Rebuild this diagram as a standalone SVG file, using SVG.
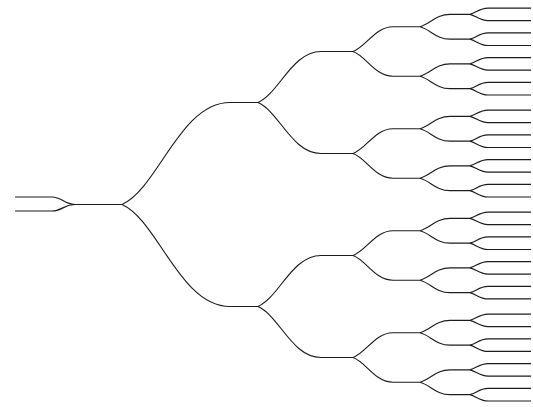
<svg xmlns="http://www.w3.org/2000/svg" width="533" height="407" viewBox="0 0 533 407">
<style>
.c{fill:none;stroke:#1c1c1c;stroke-width:1.15;stroke-linecap:butt}
</style>
<defs>
<path id="e1" class="c" d="M0,0 C36,-16 58,-102 108,-102 L136,-102"/>
<path id="e2" class="c" d="M0,0 C21,-9 34,-51 63,-51 L95,-51"/>
<path id="e3" class="c" d="M0,0 C13,-4.5 22,-24.75 40,-24.75 L67,-24.75"/>
<path id="e4" class="c" d="M0,0 C10,-2.5 16,-12.4 30,-12.4 L50,-12.4"/>
<path id="e5" class="c" d="M0,0 C6,-1.3 9.5,-6.3 18,-6.3 L61,-6.3"/>
</defs>
<rect width="533" height="407" fill="#fff"/>
<g id="connectors">
<g id="root-stem">
<path class="c" d="M15,197 L52,197 C62,197 64,204.5 75,204.5 L122,204.5"/>
<path class="c" d="M15,211 L52,211 C62,211 64,204.5 75,204.5"/>
</g>
<g id="level1">
<use href="#e1" transform="translate(122,204.5)"/>
<use href="#e1" transform="translate(122,204.5) scale(1,-1)"/>
</g>
<g id="level2">
<use href="#e2" transform="translate(258,102.5)"/>
<use href="#e2" transform="translate(258,102.5) scale(1,-1)"/>
<use href="#e2" transform="translate(258,306.5)"/>
<use href="#e2" transform="translate(258,306.5) scale(1,-1)"/>
</g>
<g id="level3">
<use href="#e3" transform="translate(353,51.5)"/>
<use href="#e3" transform="translate(353,51.5) scale(1,-1)"/>
<use href="#e3" transform="translate(353,153.5)"/>
<use href="#e3" transform="translate(353,153.5) scale(1,-1)"/>
<use href="#e3" transform="translate(353,255.5)"/>
<use href="#e3" transform="translate(353,255.5) scale(1,-1)"/>
<use href="#e3" transform="translate(353,357.5)"/>
<use href="#e3" transform="translate(353,357.5) scale(1,-1)"/>
</g>
<g id="level4">
<use href="#e4" transform="translate(420,26.75)"/>
<use href="#e4" transform="translate(420,26.75) scale(1,-1)"/>
<use href="#e4" transform="translate(420,76.25)"/>
<use href="#e4" transform="translate(420,76.25) scale(1,-1)"/>
<use href="#e4" transform="translate(420,128.75)"/>
<use href="#e4" transform="translate(420,128.75) scale(1,-1)"/>
<use href="#e4" transform="translate(420,178.25)"/>
<use href="#e4" transform="translate(420,178.25) scale(1,-1)"/>
<use href="#e4" transform="translate(420,230.75)"/>
<use href="#e4" transform="translate(420,230.75) scale(1,-1)"/>
<use href="#e4" transform="translate(420,280.25)"/>
<use href="#e4" transform="translate(420,280.25) scale(1,-1)"/>
<use href="#e4" transform="translate(420,332.75)"/>
<use href="#e4" transform="translate(420,332.75) scale(1,-1)"/>
<use href="#e4" transform="translate(420,382.25)"/>
<use href="#e4" transform="translate(420,382.25) scale(1,-1)"/>
</g>
<g id="level5">
<use href="#e5" transform="translate(470,14.35)"/>
<use href="#e5" transform="translate(470,14.35) scale(1,-1)"/>
<use href="#e5" transform="translate(470,39.15)"/>
<use href="#e5" transform="translate(470,39.15) scale(1,-1)"/>
<use href="#e5" transform="translate(470,63.85)"/>
<use href="#e5" transform="translate(470,63.85) scale(1,-1)"/>
<use href="#e5" transform="translate(470,88.65)"/>
<use href="#e5" transform="translate(470,88.65) scale(1,-1)"/>
<use href="#e5" transform="translate(470,116.35)"/>
<use href="#e5" transform="translate(470,116.35) scale(1,-1)"/>
<use href="#e5" transform="translate(470,141.15)"/>
<use href="#e5" transform="translate(470,141.15) scale(1,-1)"/>
<use href="#e5" transform="translate(470,165.85)"/>
<use href="#e5" transform="translate(470,165.85) scale(1,-1)"/>
<use href="#e5" transform="translate(470,190.65)"/>
<use href="#e5" transform="translate(470,190.65) scale(1,-1)"/>
<use href="#e5" transform="translate(470,218.35)"/>
<use href="#e5" transform="translate(470,218.35) scale(1,-1)"/>
<use href="#e5" transform="translate(470,243.15)"/>
<use href="#e5" transform="translate(470,243.15) scale(1,-1)"/>
<use href="#e5" transform="translate(470,267.85)"/>
<use href="#e5" transform="translate(470,267.85) scale(1,-1)"/>
<use href="#e5" transform="translate(470,292.65)"/>
<use href="#e5" transform="translate(470,292.65) scale(1,-1)"/>
<use href="#e5" transform="translate(470,320.35)"/>
<use href="#e5" transform="translate(470,320.35) scale(1,-1)"/>
<use href="#e5" transform="translate(470,345.15)"/>
<use href="#e5" transform="translate(470,345.15) scale(1,-1)"/>
<use href="#e5" transform="translate(470,369.85)"/>
<use href="#e5" transform="translate(470,369.85) scale(1,-1)"/>
<use href="#e5" transform="translate(470,394.65)"/>
<use href="#e5" transform="translate(470,394.65) scale(1,-1)"/>
</g>
</g>
</svg>
